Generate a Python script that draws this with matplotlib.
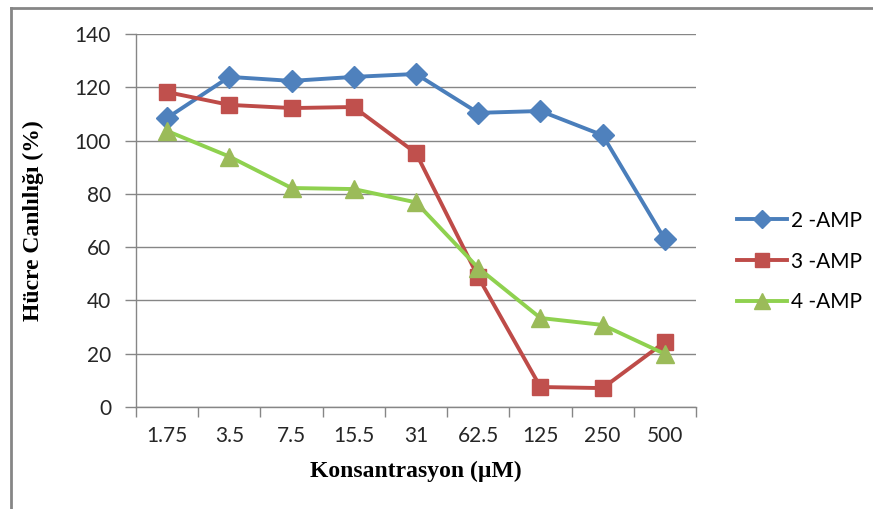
import matplotlib.pyplot as plt
from matplotlib.lines import Line2D

# concentration categories (uM)
concentrations = ['1.75', '3.5', '7.5', '15.5', '31', '62.5', '125', '250', '500']

# cell viability (%)
amp2 = [108.5, 123.9, 122.4, 123.9, 125.0, 110.4, 111.1, 102.0, 62.9]
amp3 = [118.2, 113.4, 112.2, 112.6, 95.3, 48.8, 7.5, 7.1, 24.4]
amp4 = [103.6, 94.0, 82.2, 81.8, 76.8, 52.2, 33.4, 30.8, 19.9]

series_labels = ['2 -AMP', '3 -AMP', '4 -AMP']

plt.rcParams['font.family'] = ['Lato', 'DejaVu Sans']

fig = plt.figure(figsize=(8.73, 5.09), dpi=100)
ax = fig.add_axes([136 / 873, 1 - 407 / 509, (696 - 136) / 873, (407 - 34) / 509])

x = list(range(len(concentrations)))

ax.plot(x, amp2, color='#4A7EBB', lw=2.8, marker='D', markersize=11,
        markerfacecolor='#4F81BD', markeredgecolor='#4F81BD', label=series_labels[0])
ax.plot(x, amp3, color='#BE4B48', lw=2.8, marker='s', markersize=12,
        markerfacecolor='#C0504D', markeredgecolor='#C0504D', label=series_labels[1])
ax.plot(x, amp4, color='#8FD14F', lw=2.8, marker='^', markersize=13,
        markerfacecolor='#9BBB59', markeredgecolor='#9BBB59', label=series_labels[2])

ax.set_ylim(0, 140)
ax.set_yticks(range(0, 141, 20))
ax.set_xlim(-0.5, len(concentrations) - 0.5)

# tick marks on category boundaries, labels at centers
ax.set_xticks([i - 0.5 for i in range(len(concentrations) + 1)])
ax.set_xticklabels([])
ax.set_xticks(x, minor=True)
ax.set_xticklabels(concentrations, minor=True)
ax.tick_params(axis='x', which='major', length=7, color='#868686', width=1)
ax.tick_params(axis='x', which='minor', length=0, pad=14, labelsize=15, labelcolor='#262626')
ax.tick_params(axis='y', length=8, color='#868686', width=1, pad=10, labelsize=15, labelcolor='#262626')

ax.grid(axis='y', color='#868686', lw=1)
ax.set_axisbelow(True)
for side in ['top', 'right']:
    ax.spines[side].set_visible(False)
for side in ['left', 'bottom']:
    ax.spines[side].set_color('#868686')
    ax.spines[side].set_linewidth(1)

ax.set_xlabel('Konsantrasyon (µM)', family='Liberation Serif', fontweight='bold',
              fontsize=17, labelpad=10)
ax.set_ylabel('Hücre Canlılığı (%)', family='Liberation Serif', fontweight='bold',
              fontsize=17, labelpad=22)

ax.legend(loc='center left', bbox_to_anchor=(1.04, 0.39), frameon=False, fontsize=15,
          handlelength=2.4, labelspacing=1.0, handletextpad=0.2, markerscale=0.85)

# outer chart border (top and left edges visible)
fig.add_artist(Line2D([11 / 873, 11 / 873], [0, 1 - 8 / 509], color='#868686', lw=2))
fig.add_artist(Line2D([11 / 873, 1], [1 - 8 / 509, 1 - 8 / 509], color='#868686', lw=2))

fig.savefig('out.png', dpi=100)
